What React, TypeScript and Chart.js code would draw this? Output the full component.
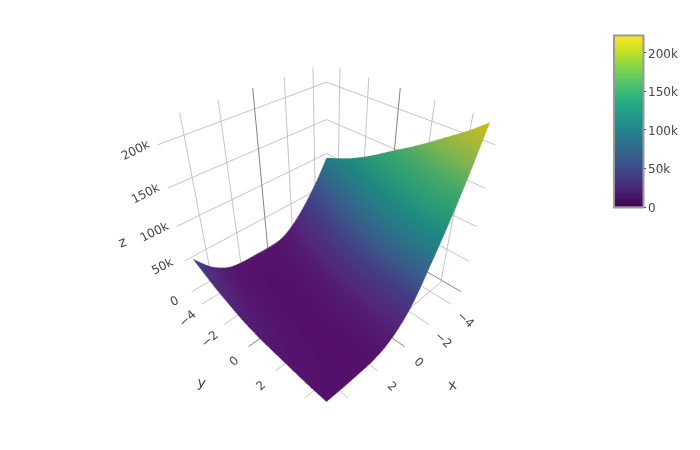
import React, { useEffect, useRef } from "react";
import { Chart, registerables } from "chart.js";
Chart.register(...registerables);

// grid positions of the surface samples
const XS = [-4.85, -3.9, -2.9, -1.9, -0.95, 0, 1, 2, 3, 4, 4.92];
const YS = [-4.85, -3.9, -2.9, -1.9, -0.95, 0, 1, 2, 3, 4, 4.92];
// height (thousands), one row per y, one column per x
const Z_Y0 = [96, 65, 38, 17, 5, 2.5, 3, 4, 9, 25, 50];
const Z_Y1 = [104, 73, 46, 24, 9, 3, 2, 2.5, 7, 19, 40];
const Z_Y2 = [113, 82, 54, 31, 13, 4, 1.5, 1.5, 5, 14.5, 30];
const Z_Y3 = [124, 93, 63, 38, 18, 6, 1.5, 1, 3.5, 11, 22];
const Z_Y4 = [136, 105, 72, 46, 23, 8, 2, 0.8, 2.5, 8, 15];
const Z_Y5 = [149, 117, 82, 53, 28, 10.5, 2.5, 0.6, 1.8, 6, 10.5];
const Z_Y6 = [162, 129, 92, 60, 32, 13, 3.5, 0.5, 1.2, 4.5, 7.5];
const Z_Y7 = [176, 141, 102, 67, 36, 15.5, 4.5, 0.5, 0.8, 3, 5.5];
const Z_Y8 = [191, 152, 110, 72, 39, 17.5, 5, 0.6, 0.5, 2, 3.5];
const Z_Y9 = [206, 162, 117, 77, 41, 19, 5.5, 0.7, 0.3, 1, 2];
const Z_Y10 = [222, 170, 122, 80, 43, 20, 6, 0.8, 0.2, 0.5, 1.5];
const Z_ROWS = [Z_Y0, Z_Y1, Z_Y2, Z_Y3, Z_Y4, Z_Y5, Z_Y6, Z_Y7, Z_Y8, Z_Y9, Z_Y10];

const XY_TICKS = [-4, -2, 0, 2, 4];
const XY_TICK_LABELS = ["\u22124", "\u22122", "0", "2"];
const Z_TICKS = [0, 50, 100, 150, 200];
const Z_TICK_LABELS = ["0", "50k", "100k", "150k", "200k"];
const COLORBAR_TICKS = [0, 50000, 100000, 150000, 200000];
const Z_MAX = 222;
const VIRIDIS = ["#440154", "#482475", "#414487", "#355f8d", "#2a788e", "#21918c", "#22a884", "#44bf70", "#7ad151", "#bddf26", "#fde725"];
const LIT = ["#54106a", "#53277a", "#443d85", "#3a5a8a", "#2a7488", "#1f8a82", "#2b9c75", "#45a868", "#78b452", "#aab838", "#cabc15"];

// camera
const CX = 326.5, A = 130, PA = 0.21, PB = 0.2, Y0 = 289, C = 31, E = 175;
const project = (x: number, y: number, zk: number) => {
  const h = (y - x) / 10, d = (x + y) / 10, z = zk / 200;
  const w = 1 - PA * d - PB * z;
  return { x: CX + (A * h) / w, y: (Y0 + C * d - E * z) / w };
};

const FLOOR = -4, TOP = 224, BOX = 5, WALL_END = 5.3, TICK_END = 5.35;
const GRID = "rgba(190,190,190,0.9)";
const ZERO = "rgba(125,125,125,0.95)";
const FONT = '12px "DejaVu Sans"';
const TITLE = '14px "DejaVu Sans"';
const INK = "#444444";

const line = (a: any, b: any, color: string) => ({
  type: "scatter" as const,
  data: [a, b],
  showLine: true,
  borderColor: color,
  borderWidth: 1,
  pointRadius: 0,
  fill: false,
});

const gridDatasets = () => {
  const out: any[] = [];
  for (const t of XY_TICKS) {
    const col = t === 0 ? ZERO : GRID;
    out.push(line(project(-BOX, t, FLOOR), project(-BOX, t, TOP), col));
    out.push(line(project(t, -BOX, FLOOR), project(t, -BOX, TOP), col));
    out.push(line(project(t, -BOX, FLOOR), project(t, TICK_END, FLOOR), col));
    out.push(line(project(-BOX, t, FLOOR), project(TICK_END, t, FLOOR), col));
  }
  for (const z of Z_TICKS) {
    const col = z === 0 ? ZERO : GRID;
    out.push(line(project(-BOX, -BOX, z), project(-BOX, WALL_END, z), col));
    out.push(line(project(-BOX, -BOX, z), project(WALL_END, -BOX, z), z === 0 ? GRID : col));
  }
  return out;
};

const hex = (s: string) => [1, 3, 5].map((i) => parseInt(s.slice(i, i + 2), 16));
const litColor = (zk: number) => {
  const t = Math.max(0, Math.min(1, zk / Z_MAX)) * (LIT.length - 1);
  const i = Math.min(LIT.length - 2, Math.floor(t));
  const a = hex(LIT[i]), b = hex(LIT[i + 1]);
  return a.map((v, k) => v + (b[k] - v) * (t - i));
};

const cr = (p0: number, p1: number, p2: number, p3: number, t: number) =>
  0.5 * (2 * p1 + (p2 - p0) * t + (2 * p0 - 5 * p1 + 4 * p2 - p3) * t * t + (3 * p1 - p0 - 3 * p2 + p3) * t * t * t);

const refine = (g: number[][], S: number) => {
  const pick = (a: number[], i: number) => a[Math.max(0, Math.min(a.length - 1, i))];
  const along = (a: number[]) => {
    const r: number[] = [];
    for (let i = 0; i < a.length - 1; i++)
      for (let s = 0; s < S; s++) r.push(cr(pick(a, i - 1), a[i], a[i + 1], pick(a, i + 2), s / S));
    r.push(a[a.length - 1]);
    return r;
  };
  const rows = g.map(along);
  return rows[0].map((_, c) => along(rows.map((r) => r[c])));
};

// paints one triangle into an RGBA buffer, colouring each pixel from the height
const tri = (buf: Uint8ClampedArray, W: number, H: number, p: number[][]) => {
  const [a, b, c] = p;
  const x0 = Math.max(0, Math.floor(Math.min(a[0], b[0], c[0])));
  const x1 = Math.min(W - 1, Math.ceil(Math.max(a[0], b[0], c[0])));
  const y0 = Math.max(0, Math.floor(Math.min(a[1], b[1], c[1])));
  const y1 = Math.min(H - 1, Math.ceil(Math.max(a[1], b[1], c[1])));
  const den = (b[1] - c[1]) * (a[0] - c[0]) + (c[0] - b[0]) * (a[1] - c[1]);
  if (Math.abs(den) < 1e-6) return;
  for (let y = y0; y <= y1; y++) {
    for (let x = x0; x <= x1; x++) {
      const l1 = ((b[1] - c[1]) * (x + 0.5 - c[0]) + (c[0] - b[0]) * (y + 0.5 - c[1])) / den;
      const l2 = ((c[1] - a[1]) * (x + 0.5 - c[0]) + (a[0] - c[0]) * (y + 0.5 - c[1])) / den;
      const l3 = 1 - l1 - l2;
      if (l1 < -1e-4 || l2 < -1e-4 || l3 < -1e-4) continue;
      const col = litColor(l1 * a[2] + l2 * b[2] + l3 * c[2]);
      const k = (y * W + x) * 4;
      buf[k] = col[0]; buf[k + 1] = col[1]; buf[k + 2] = col[2]; buf[k + 3] = 255;
    }
  }
};

const surfacePlugin = {
  id: "surface",
  afterDatasetsDraw(chart: any) {
    const meta = chart.getDatasetMeta(0);
    const data = chart.data.datasets[0].data;
    const n = XS.length;
    const gx: number[][] = [], gy: number[][] = [], gz: number[][] = [];
    for (let j = 0; j < n; j++) {
      gx.push([]); gy.push([]); gz.push([]);
      for (let i = 0; i < n; i++) {
        const k = j * n + i;
        gx[j].push(meta.data[k].x);
        gy[j].push(meta.data[k].y);
        gz[j].push(data[k].z);
      }
    }
    const S = 6, SS = 3;
    const fx = refine(gx, S), fy = refine(gy, S), fz = refine(gz, S);
    const W = chart.width * SS, H = chart.height * SS;
    const off = document.createElement("canvas");
    off.width = W; off.height = H;
    const octx = off.getContext("2d")!;
    const img = octx.createImageData(W, H);
    const m = fx.length;
    const P = (c: number, r: number) => [fx[c][r] * SS, fy[c][r] * SS, fz[c][r]];
    for (let c = 0; c < m - 1; c++) {
      for (let r = 0; r < m - 1; r++) {
        tri(img.data, W, H, [P(c, r), P(c + 1, r), P(c + 1, r + 1)]);
        tri(img.data, W, H, [P(c, r), P(c + 1, r + 1), P(c, r + 1)]);
      }
    }
    octx.putImageData(img, 0, 0);
    const ctx = chart.ctx;
    ctx.save();
    ctx.imageSmoothingEnabled = true;
    ctx.imageSmoothingQuality = "high";
    ctx.drawImage(off, 0, 0, chart.width, chart.height);
    // axis text
    const sx = chart.scales.x, sy = chart.scales.y;
    const put = (txt: string, p: any, dx: number, dy: number, deg: number, font = FONT) => {
      ctx.save();
      ctx.translate(sx.getPixelForValue(p.x) + dx, sy.getPixelForValue(p.y) + dy);
      ctx.rotate((deg * Math.PI) / 180);
      ctx.font = font;
      ctx.fillStyle = INK;
      ctx.textAlign = "center";
      ctx.textBaseline = "middle";
      ctx.fillText(txt, 0, 0);
      ctx.restore();
    };
    Z_TICK_LABELS.forEach((s, i) => {
      put(s, project(WALL_END, -BOX, Z_TICKS[i]), s === "0" ? -17 : -22, s === "0" ? 10 : 6, -27);
    });
    XY_TICK_LABELS.forEach((s, i) => {
      put(s, project(TICK_END, XY_TICKS[i], FLOOR), -14, 15, -42);
      put(s, project(XY_TICKS[i], TICK_END, FLOOR), 14, 16, 42);
    });
    put("z", project(WALL_END, -BOX, 75), -58, -1, -20, TITLE);
    put("y", project(TICK_END, 0, FLOOR), -47, 37, 10, TITLE);
    put("x", project(0, TICK_END, FLOOR), 48, 39, -10, TITLE);
    ctx.restore();
  },
};

const framePlugin = {
  id: "frame",
  afterDatasetsDraw(chart: any) {
    const a = chart.chartArea, ctx = chart.ctx;
    ctx.save();
    ctx.strokeStyle = "#999999";
    ctx.lineWidth = 2;
    ctx.strokeRect(a.left - 1, a.top - 0.5, a.right - a.left + 1.5, a.bottom - a.top + 1);
    ctx.restore();
  },
};

export default function App() {
  const mainRef = useRef<HTMLCanvasElement>(null);
  const barRef = useRef<HTMLCanvasElement>(null);
  useEffect(() => {
    const nodes: any[] = [];
    YS.forEach((y, j) => XS.forEach((x, i) => {
      nodes.push({ ...project(x, y, Z_ROWS[j][i]), z: Z_ROWS[j][i] });
    }));
    const main = new Chart(mainRef.current!, {
      type: "scatter",
      data: {
        datasets: [
          { label: "surface", data: nodes, pointRadius: 0, showLine: false },
          ...gridDatasets(),
        ],
      },
      options: {
        animation: false,
        responsive: false,
        layout: { padding: 0 },
        plugins: { legend: { display: false }, tooltip: { enabled: false } },
        scales: {
          x: { type: "linear", min: 0, max: 700, display: false },
          y: { type: "linear", min: 0, max: 450, reverse: true, display: false },
        },
      },
      plugins: [surfacePlugin],
    } as any);

    const bar = new Chart(barRef.current!, {
      type: "bar",
      data: {
        labels: ["z"],
        datasets: [{
          data: [[0, Z_MAX * 1000]],
          barPercentage: 1,
          categoryPercentage: 1,
          borderWidth: 0,
          backgroundColor: (c: any) => {
            const ca = c.chart.chartArea;
            if (!ca) return VIRIDIS[0];
            const g = c.chart.ctx.createLinearGradient(0, ca.bottom, 0, ca.top);
            VIRIDIS.forEach((v, i) => g.addColorStop(i / (VIRIDIS.length - 1), v));
            return g;
          },
        }],
      },
      options: {
        animation: false,
        responsive: false,
        layout: { padding: { left: 15, top: 16, bottom: 13, right: 0 } },
        plugins: { legend: { display: false }, tooltip: { enabled: false } },
        scales: {
          x: { display: false },
          y: {
            position: "right",
            min: 0,
            max: Z_MAX * 1000,
            border: { display: false },
            grid: { drawOnChartArea: false, drawTicks: true, tickLength: 3, color: "#444444" },
            afterBuildTicks: (s: any) => { s.ticks = COLORBAR_TICKS.map((value) => ({ value })); },
            afterFit: (s: any) => { s.width = 57; },
            ticks: {
              padding: 2,
              labelOffset: 1.5,
              color: INK,
              font: { family: "DejaVu Sans", size: 12 },
              callback: (v: any) => (v === 0 ? "0" : `${v / 1000}k`),
            },
          },
        },
      },
      plugins: [framePlugin],
    } as any);
    return () => { main.destroy(); bar.destroy(); };
  }, []);
  return (
    <div style={{ position: "fixed", left: 0, top: 0, width: 700, height: 450, background: "#fff" }}>
      <canvas ref={mainRef} width={700} height={450} style={{ position: "absolute", left: 0, top: 0 }} />
      <canvas ref={barRef} width={100} height={200} style={{ position: "absolute", left: 600, top: 20 }} />
    </div>
  );
}
